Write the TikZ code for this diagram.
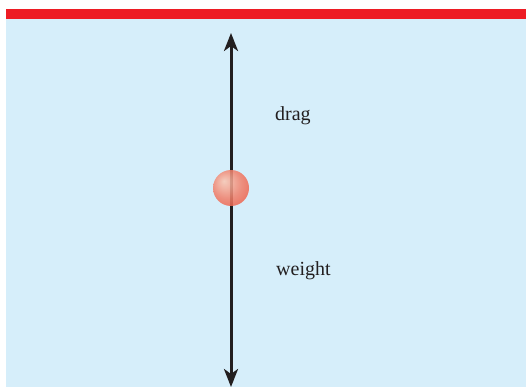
\documentclass[tikz,border=0pt]{standalone}
\usepackage{fontspec}
\setmainfont{Liberation Serif}
\usetikzlibrary{arrows.meta,positioning}
\definecolor{waterblue}{RGB}{214,238,250}
\definecolor{surfacered}{RGB}{237,28,36}
\definecolor{ballhi}{RGB}{250,200,180}
\definecolor{ballrim}{RGB}{236,80,58}
\definecolor{forcegray}{RGB}{35,31,32}
\pgfdeclareradialshading{ballshade}{\pgfpoint{-10bp}{10bp}}{%
  color(0bp)=(ballhi); color(20bp)=(ballhi!40!ballrim); color(38bp)=(ballrim); color(50bp)=(ballrim)}

\begin{document}
\begin{tikzpicture}[
  x=1pt, y=-1pt,
  force/.style={-{Stealth[length=18pt,width=14pt,inset=5pt]},line width=3pt,draw=forcegray},
  label/.style={font=\fontsize{20}{24}\selectfont,text=forcegray,anchor=base west,inner sep=0pt}
]
  \useasboundingbox (0,0) rectangle (526,387);
  % tank and surface
  \fill[waterblue] (6,19) rectangle (526,387);
  \fill[surfacered] (6,9) rectangle (526,19);

  \coordinate (ball) at (231,188);
  \coordinate (top) at (231,33);
  \coordinate (bottom) at (231,387);

  \draw[force] (ball) -- (top);
  \draw[force] (ball) -- (bottom);

  \shade[shading=ballshade,fill opacity=0.85] (ball) circle[radius=18];

  \node[label] (drag) at (275,121) {drag};
  \node[label] (weight) at (276,275) {weight};
\end{tikzpicture}
\end{document}
